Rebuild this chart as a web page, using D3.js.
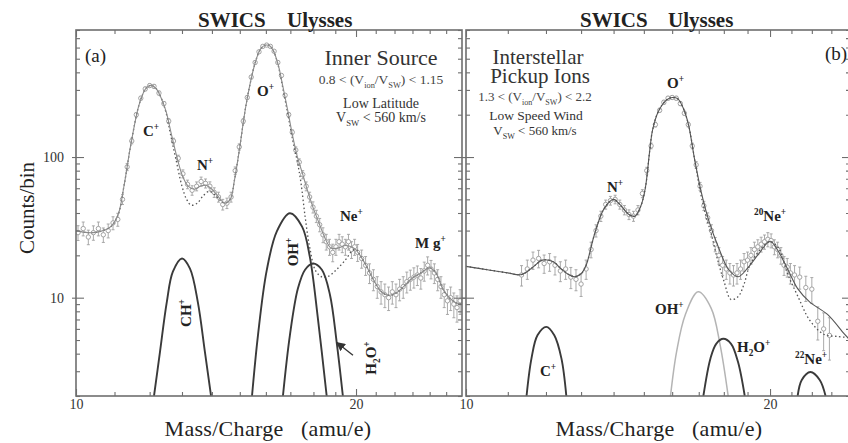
<!DOCTYPE html>
<meta charset="utf-8">
<style>
    body {
        margin: 0;
        background: #fff;
    }
    svg {
        font-family: "Liberation Serif", "Times New Roman", serif;
    }
    .frame {
        fill: none;
        stroke: #6e6e6e;
        stroke-width: 1.6;
    }
    .tick line {
        stroke: #6e6e6e;
        stroke-width: 1.1;
    }
    .domain {
        display: none;
    }
    .tick text {
        font-family: "Liberation Serif", serif;
        font-size: 14px;
        fill: #333;
    }
    path.fit {
        fill: none;
        stroke-width: 1.1;
    }
    path.dot {
        fill: none;
        stroke: #555;
        stroke-width: 1.3;
        stroke-dasharray: 1.5 2.5;
    }
    path.peak {
        fill: none;
        stroke: #3a3a3a;
        stroke-width: 1.9;
    }
    .pt circle {
        fill: #fff;
        stroke: #9a9a9a;
        stroke-width: 0.9;
    }
    .pt line {
        stroke: #a0a0a0;
        stroke-width: 0.9;
    }
    text.lab {
        fill: #222;
    }
</style>
<body>
<div id="main"></div>
<script src="https://d3js.org/d3.v7.min.js"></script>
<script>
// ---- panel (a): inner source ----
// [mass/charge, counts, error]
var pointsA = [
    [10.05,29,3.5],[10.18,31,3.5],[10.31,27,3.2],[10.44,29,3.4],[10.57,31,3.5],[10.70,28,3.3],
    [10.83,30,3.4],[10.96,34,3.6],[11.09,36,3.8],[11.22,50,4],[11.35,85,5],[11.48,130,6],
    [11.61,200,7],[11.74,262,8],[11.87,305,9],[12.00,322,9],[12.13,318,9],[12.28,285,9],
    [12.43,240,8],[12.58,180,7],[12.73,130,6],[12.88,98,5],[13.03,76,5],[13.18,64,4.5],
    [13.33,58,4.5],[13.48,62,4.5],[13.63,67,5],[13.78,65,4.8],[13.93,62,4.6],[14.08,56,4.4],
    [14.23,52,4.2],[14.38,46,4],[14.53,47,4],[14.68,52,4.2],[14.83,80,5],[14.98,118,6],
    [15.13,180,7],[15.28,265,8],[15.43,370,10],[15.58,470,11],[15.73,560,12],[15.88,612,12],
    [16.03,625,12],[16.18,612,12],[16.33,565,12],[16.48,470,11],[16.63,380,10],[16.78,275,8],
    [16.93,200,7],[17.08,150,6],[17.23,112,6],[17.38,92,5],[17.53,75,5],[17.68,62,4.5],
    [17.83,52,4.2],[17.98,44,4],[18.13,38,3.8],[18.28,33,3.6],[18.43,28,3.4],[18.58,25,3.2],
    [18.73,23,3],[18.88,21,3],[19.03,23,3],[19.18,25,3.2],[19.33,24,3.1],[19.48,23,3],
    [19.63,25,3.2],[19.78,22,3],[19.93,23,3],[20.08,21,2.9],[20.28,19,2.8],[20.48,17,2.6],
    [20.68,15,2.4],[20.88,13.5,2.3],[21.08,12,2.1],[21.28,11,2],[21.48,10.5,2],[21.68,10,1.9],
    [21.88,11,2],[22.08,10.5,2],[22.28,11.5,2],[22.48,12,2.1],[22.68,13,2.2],[22.88,13.5,2.2],
    [23.08,14,2.3],[23.28,14.5,2.3],[23.48,13.8,2.3],[23.68,15.5,2.4],[23.88,17,2.5],[24.08,16,2.4],
    [24.28,15,2.4],[24.48,13.5,2.3],[24.68,12,2.1],[24.88,10.5,2],[25.08,9.5,1.9],[25.28,10,1.9],
    [25.48,9,1.8],[25.68,8.5,1.8],[25.88,9.5,1.9]
];
var fitA = [
    [10.0,30],[10.3,29],[10.6,29.5],[10.9,32],[11.1,39],[11.26,62],[11.46,125],[11.7,240],
    [11.9,310],[12.05,323],[12.2,305],[12.35,262],[12.5,210],[12.65,150],[12.8,108],[13.0,75],
    [13.2,62],[13.4,59],[13.6,62],[13.8,63],[14.0,59],[14.2,53],[14.45,47],[14.65,50],[14.8,68],
    [15.0,118],[15.2,215],[15.4,340],[15.6,480],[15.8,590],[16.0,625],[16.15,618],[16.3,570],
    [16.5,450],[16.7,310],[16.9,210],[17.1,140],[17.3,100],[17.5,78],[17.75,57],[18.0,43],
    [18.25,34],[18.5,27],[18.8,22.5],[19.1,22.5],[19.5,23.5],[19.9,22.5],[20.2,20],[20.5,17],
    [20.9,13.3],[21.3,11],[21.7,10.4],[22.1,10.8],[22.5,12],[23.0,13.8],[23.5,15],[24.0,16.3],
    [24.4,14.8],[24.8,11.5],[25.2,10],[25.6,9.2],[26.0,9]
];
var dottedA = [
    [10.0,30],[10.3,29],[10.6,29.5],[10.9,32],[11.1,39],[11.26,62],[11.46,125],[11.7,240],
    [11.9,310],[12.05,323],[12.2,305],[12.35,262],[12.5,205],[12.65,140],[12.8,98],[13.0,62],
    [13.15,50],[13.3,45.5],[13.5,47],[13.7,53],[13.9,57],[14.1,54],[14.3,49],[14.45,47],
    [14.65,50],[14.8,68],[15.0,118],[15.2,215],[15.4,340],[15.6,480],[15.8,590],[16.0,625],
    [16.15,618],[16.3,570],[16.5,445],[16.7,300],[16.9,200],[17.1,132],[17.3,92],[17.45,66],
    [17.63,38],[17.83,23],[18.1,15.5],[18.4,14],[18.65,14.1],[19.05,15.8],[19.5,18.7],
    [19.8,21.5],[20.0,22],[20.2,20],[20.5,17],[20.9,13.3],[21.3,11],[21.7,10.4],[22.1,10.8],
    [22.5,12],[23.0,13.8],[23.5,15],[24.0,16.3],[24.4,14.8],[24.8,11.5],[25.2,10],[25.6,9.2],[26.0,9]
];
var chA  = [[12.13,2],[12.31,4.1],[12.52,9.3],[12.71,15.3],[13.0,19],[13.26,16.1],[13.52,9.3],[13.76,4.1],[13.97,2]];
var ohA  = [[15.46,2],[15.69,5.4],[16.03,15.5],[16.44,29.6],[16.98,39.8],[17.5,32],[17.84,19.5],[18.2,7.1],[18.6,2]];
var h2oA = [[16.69,2],[16.98,5.4],[17.32,11.6],[17.63,15.8],[17.98,17.5],[18.38,15.8],[18.75,10.5],[19.06,4.9],[19.36,2]];

// ---- panel (b): interstellar pickup ions ----
var pointsB = [
    [11.35,14.5,2.4],[11.5,16,2.5],[11.65,18.5,2.6],[11.8,19,2.7],[11.95,17.5,2.6],[12.1,18,2.6],
    [12.25,17,2.5],[12.4,15.5,2.5],[12.55,16,2.5],[12.7,14,2.4],[12.85,13.5,2.3],[13.0,12.5,2.3],
    [13.15,16,2.5],[13.3,22,2.8],[13.45,30,3],[13.6,38,3.2],[13.75,46,3.4],[13.9,49,3.5],
    [14.05,50,3.5],[14.2,46,3.4],[14.35,42,3.2],[14.5,39,3.1],[14.65,38,3.1],[14.8,42,3.2],
    [14.95,55,3.6],[15.1,80,4.5],[15.25,120,5.5],[15.4,170,6.5],[15.55,215,7],[15.7,245,8],
    [15.85,262,8],[16.0,265,8],[16.15,262,8],[16.3,240,8],[16.45,205,7],[16.6,170,6.5],
    [16.75,120,5.5],[16.9,88,4.8],[17.05,62,4],[17.2,45,3.4],[17.35,37,3.1],[17.5,30,3],
    [17.65,24,2.8],[17.8,20,2.7],[17.95,17,2.6],[18.1,16,2.5],[18.25,15,2.5],[18.4,14.5,2.4],
    [18.55,15,2.5],[18.7,16,2.5],[18.85,18,2.6],[19.0,18.5,2.6],[19.15,20,2.7],[19.3,22,2.8],
    [19.45,23,2.8],[19.6,24,2.9],[19.75,25,2.9],[19.9,26,3],[20.05,25.5,2.9],[20.2,23,2.8],
    [20.35,22,2.8],[20.5,20,2.7],[20.65,17,2.6],[20.8,16.5,2.5],[20.95,15,2.5],[21.15,14.5,2.4],
    [21.4,14,2.5],[21.7,11.8,2.4],[22.0,11.5,2.4],[22.3,6.8,1.8],[22.6,6.0,1.8],[22.9,5.4,1.8]
];
var fitB = [
    [10.0,16.7],[10.5,15.8],[11.0,15],[11.35,14.6],[11.65,16.5],[11.9,18.5],[12.2,18],[12.4,16.2],
    [12.6,14.8],[12.8,14.1],[13.0,14.8],[13.15,17],[13.4,28],[13.7,43],[14.0,50],[14.2,46],
    [14.5,39],[14.7,38],[14.9,45],[15.05,60],[15.2,110],[15.3,155],[15.5,210],[15.8,255],
    [16.0,265],[16.2,260],[16.4,225],[16.6,172],[16.85,94],[17.1,56],[17.4,35],[17.8,22.4],
    [18.2,15.8],[18.6,14.1],[19.0,16.2],[19.5,20.6],[20.0,25.2],[20.3,22.4],[20.8,16.2],
    [21.3,11.6],[21.9,9.3],[22.8,7.6],[23.7,5.5],[24.0,5.0]
];
var dottedB = [
    [10.0,16.7],[10.5,15.8],[11.0,15],[11.35,14.6],[11.65,16.5],[11.9,18.5],[12.2,18],[12.4,16.2],
    [12.6,14.8],[12.8,14.1],[13.0,14.8],[13.15,17],[13.4,28],[13.7,43],[14.0,50],[14.2,46],
    [14.5,39],[14.7,38],[14.9,45],[15.05,60],[15.2,110],[15.3,155],[15.5,210],[15.8,255],
    [16.0,265],[16.2,260],[16.4,225],[16.6,172],[16.85,94],[17.05,58],[17.25,40],[17.5,28],
    [17.75,18.5],[18.0,13.2],[18.3,9.7],[18.6,10.2],[18.85,12.5],[19.1,17],[19.6,22.4],
    [20.0,25],[20.4,22.5],[20.8,15],[21.3,10.3],[21.9,6.9],[22.6,5.5],[23.3,5.3],[24.0,5.2]
];
var cB    = [[11.48,2],[11.61,3.7],[11.77,5.4],[12.01,6.2],[12.23,5.4],[12.43,3.7],[12.57,2]];
var ohB   = [[15.94,2],[16.16,4.1],[16.49,7.6],[16.98,11],[17.49,8.4],[17.85,4.6],[18.18,2]];
var h2oB  = [[17.18,2],[17.46,3.7],[17.69,4.7],[17.98,5.1],[18.3,4.7],[18.59,3.5],[18.88,2]];
var ne22B = [[21.3,2],[21.5,2.6],[21.93,2.96],[22.4,2.6],[22.7,2]];

// axis ticks
var yMajor = [10, 100];
var yMinor = [2,3,4,5,6,7,8,9,20,30,40,50,60,70,80,90,200,300,400,500,600,700,800];
var xMajor = [10, 20];
var xMinorA = [11,12,13,14,15,16,17,18,19,21,22,23,24,25];
var xMinorB = [11,12,13,14,15,16,17,18,19,21,22,23];

var W = 848, H = 443;
var yTop = 30, yBottom = 396;

var svg = d3.select("#main").append("svg")
        .attr("width", W)
        .attr("height", H);

var y = d3.scaleLog().domain([2, 800]).range([yBottom, yTop]);

var xa = d3.scaleLog().domain([10, 26]).range([76, 462]);
var xb = d3.scaleLog().domain([10, 24]).range([466, 850]);

// text with super/subscripts: parts = [[str, ""|"sup"|"sub"], ...]
function rich(sel, parts, size) {
    var shift = 0;
    parts.forEach(function(p) {
        var target = p[1] == "sup" ? -0.42 * size : (p[1] == "sub" ? 0.28 * size : 0);
        var t = sel.append("tspan").text(p[0]).attr("dy", (target - shift).toFixed(2));
        if (p[1]) t.style("font-size", (size * 0.62) + "px");
        shift = target;
    });
    return sel;
}

function label(g, x, yy, parts, size, opts) {
    opts = opts || {};
    var t = g.append("text")
            .attr("class", "lab")
            .attr("x", x)
            .attr("y", yy)
            .style("font-size", size + "px")
            .style("font-weight", opts.bold ? "bold" : "normal")
            .attr("text-anchor", opts.anchor || "start");
    if (opts.fill) t.style("fill", opts.fill);
    if (opts.spacing) t.style("letter-spacing", opts.spacing + "px");
    if (opts.rotate) {
        t.attr("x", 0).attr("y", 0)
         .attr("transform", "translate(" + x + "," + yy + ") rotate(" + opts.rotate + ")");
    }
    return rich(t, parts, size);
}

function panel(x, cfg) {
    var g = svg.append("g");
    var x0 = x.range()[0], x1 = x.range()[1];

    var clipId = "clip" + cfg.id;
    svg.append("clipPath").attr("id", clipId)
        .append("rect")
        .attr("x", x0).attr("y", yTop)
        .attr("width", x1 - x0).attr("height", yBottom - yTop);

    var line = d3.line()
            .x(function(d) { return x(d[0]); })
            .y(function(d) { return y(d[1]); })
            .curve(d3.curveCatmullRom);

    var plot = g.append("g").attr("clip-path", "url(#" + clipId + ")");

    // data points with error bars
    var pt = plot.selectAll("g.pt").data(cfg.points).enter()
            .append("g").attr("class", "pt");
    pt.append("line")
        .attr("x1", function(d) { return x(d[0]); })
        .attr("x2", function(d) { return x(d[0]); })
        .attr("y1", function(d) { return y(d[1] - d[2]); })
        .attr("y2", function(d) { return y(d[1] + d[2]); });
    pt.append("line")
        .attr("x1", function(d) { return x(d[0]) - 1.5; })
        .attr("x2", function(d) { return x(d[0]) + 1.5; })
        .attr("y1", function(d) { return y(d[1] + d[2]); })
        .attr("y2", function(d) { return y(d[1] + d[2]); });
    pt.append("line")
        .attr("x1", function(d) { return x(d[0]) - 1.5; })
        .attr("x2", function(d) { return x(d[0]) + 1.5; })
        .attr("y1", function(d) { return y(d[1] - d[2]); })
        .attr("y2", function(d) { return y(d[1] - d[2]); });
    pt.append("circle")
        .attr("cx", function(d) { return x(d[0]); })
        .attr("cy", function(d) { return y(d[1]); })
        .attr("r", 2.2);

    plot.append("path").datum(cfg.dotted).attr("class", "dot").attr("d", line);
    plot.append("path").datum(cfg.fit).attr("class", "fit")
        .style("stroke", cfg.fitColor).attr("d", line);

    cfg.peaks.forEach(function(p) {
        plot.append("path").datum(p.data).attr("class", "peak")
            .style("stroke", p.color || "#3a3a3a")
            .style("stroke-width", p.width || 1.9)
            .attr("d", line);
    });

    // axes, ticks pointing inward on all four sides
    g.append("g").attr("transform", "translate(0," + yBottom + ")")
        .call(d3.axisBottom(x).tickValues(cfg.xMinor).tickSize(-4).tickFormat(""));
    g.append("g").attr("transform", "translate(0," + yBottom + ")")
        .call(d3.axisBottom(x).tickValues(xMajor).tickSize(-7).tickPadding(3).tickFormat(d3.format("d")));
    g.append("g").attr("transform", "translate(0," + yTop + ")")
        .call(d3.axisTop(x).tickValues(cfg.xMinor).tickSize(-4).tickFormat(""));
    g.append("g").attr("transform", "translate(0," + yTop + ")")
        .call(d3.axisTop(x).tickValues(xMajor).tickSize(-7).tickFormat(""));

    g.append("g").attr("transform", "translate(" + x0 + ",0)")
        .call(d3.axisLeft(y).tickValues(yMinor).tickSize(-4).tickFormat(""));
    var yl = g.append("g").attr("transform", "translate(" + x0 + ",0)")
        .call(d3.axisLeft(y).tickValues(yMajor).tickSize(-8).tickPadding(12)
            .tickFormat(cfg.yLabels ? d3.format("d") : ""));
    yl.selectAll(".tick line").attr("x1", -4);
    g.append("g").attr("transform", "translate(" + x1 + ",0)")
        .call(d3.axisRight(y).tickValues(yMinor).tickSize(-4).tickFormat(""));
    var yr = g.append("g").attr("transform", "translate(" + x1 + ",0)")
        .call(d3.axisRight(y).tickValues(yMajor).tickSize(-8).tickFormat(""));
    yr.selectAll(".tick line").attr("x1", 4);

    g.append("rect").attr("class", "frame")
        .attr("x", x0).attr("y", yTop)
        .attr("width", x1 - x0).attr("height", yBottom - yTop);

    return g;
}

var ga = panel(xa, {
    id: "a", points: pointsA, fit: fitA, dotted: dottedA, fitColor: "#8c8c8c",
    xMinor: xMinorA, yLabels: true,
    peaks: [{data: chA}, {data: ohA}, {data: h2oA}]
});
var gb = panel(xb, {
    id: "b", points: pointsB, fit: fitB, dotted: dottedB, fitColor: "#555",
    xMinor: xMinorB, yLabels: false,
    peaks: [{data: cB}, {data: ohB, color: "#b4b4b4", width: 1.5}, {data: h2oB}, {data: ne22B}]
});

// ---- titles & axis labels ----
[ga, gb].forEach(function(g, i) {
    var xs = i == 0 ? [198, 287] : [580, 668];
    label(svg, xs[0], 27, [["SWICS", ""]], 21, {bold: true});
    label(svg, xs[1], 27, [["Ulysses", ""]], 21, {bold: true});
    label(svg, i == 0 ? 268 : 659, 436, [["Mass/Charge\u00a0\u00a0\u00a0(amu/e)", ""]], 22, {anchor: "middle", spacing: 0.3});
});
label(svg, 34, 208, [["Counts/bin", ""]], 21, {anchor: "middle", rotate: -90});

// ---- panel (a) annotations ----
label(svg, 85, 62, [["(a)", ""]], 19);
label(svg, 381, 65, [["Inner Source", ""]], 22, {anchor: "middle", fill: "#333"});
label(svg, 381, 84, [["0.8 < (V", ""], ["ion", "sub"], ["/V", ""], ["SW", "sub"], [") < 1.15", ""]], 13.5, {anchor: "middle", fill: "#444"});
label(svg, 381, 108, [["Low Latitude", ""]], 14, {anchor: "middle", fill: "#333"});
label(svg, 381, 122, [["V", ""], ["SW", "sub"], [" < 560 km/s", ""]], 14, {anchor: "middle", fill: "#333"});
label(svg, 143, 136, [["C", ""], ["+", "sup"]], 15, {bold: true});
label(svg, 197, 170, [["N", ""], ["+", "sup"]], 15, {bold: true});
label(svg, 257, 96, [["O", ""], ["+", "sup"]], 15, {bold: true});
label(svg, 340, 221, [["Ne", ""], ["+", "sup"]], 15, {bold: true});
label(svg, 415, 248, [["M g", ""], ["+", "sup"]], 15, {bold: true});
label(svg, 298, 252, [["OH", ""], ["+", "sup"]], 15, {bold: true, anchor: "middle", rotate: -90});
label(svg, 191, 313, [["CH", ""], ["+", "sup"]], 15, {bold: true, anchor: "middle", rotate: -90});
label(svg, 376, 358, [["H", ""], ["2", "sub"], ["O", ""], ["+", "sup"]], 15, {bold: true, anchor: "middle", rotate: -90});

// arrow to the H2O+ curve
var tip = [xa(19.07), y(4.8)], tail = [xa(19.85), y(3.9)];
svg.append("defs").append("marker")
    .attr("id", "arr").attr("viewBox", "0 0 10 10").attr("refX", 9).attr("refY", 5)
    .attr("markerWidth", 7).attr("markerHeight", 7).attr("orient", "auto")
    .append("path").attr("d", "M0,0L10,5L0,10z").style("fill", "#333");
svg.append("line")
    .attr("x1", tail[0]).attr("y1", tail[1]).attr("x2", tip[0]).attr("y2", tip[1])
    .style("stroke", "#333").style("stroke-width", 1.3)
    .attr("marker-end", "url(#arr)");

// ---- panel (b) annotations ----
label(svg, 825, 60, [["(b)", ""]], 19);
label(svg, 538, 64, [["Interstellar", ""]], 21, {anchor: "middle", fill: "#333"});
label(svg, 540, 83, [["Pickup Ions", ""]], 21, {anchor: "middle", fill: "#333"});
label(svg, 535, 101, [["1.3 < (V", ""], ["ion", "sub"], ["/V", ""], ["SW", "sub"], [") < 2.2", ""]], 13, {anchor: "middle", fill: "#444"});
label(svg, 536, 120, [["Low Speed Wind", ""]], 13.5, {anchor: "middle", fill: "#333"});
label(svg, 535, 135, [["V", ""], ["SW", "sub"], [" < 560 km/s", ""]], 13, {anchor: "middle", fill: "#333"});
label(svg, 667, 88, [["O", ""], ["+", "sup"]], 15, {bold: true});
label(svg, 607, 192, [["N", ""], ["+", "sup"]], 15, {bold: true});
label(svg, 754, 221, [["20", "sup"], ["Ne", ""], ["+", "sup"]], 15, {bold: true});
label(svg, 655, 314, [["OH", ""], ["+", "sup"]], 15, {bold: true});
label(svg, 737, 352, [["H", ""], ["2", "sub"], ["O", ""], ["+", "sup"]], 15, {bold: true});
label(svg, 795, 364, [["22", "sup"], ["Ne", ""], ["+", "sup"]], 15, {bold: true});
label(svg, 540, 376, [["C", ""], ["+", "sup"]], 15, {bold: true});
</script>
</body>
